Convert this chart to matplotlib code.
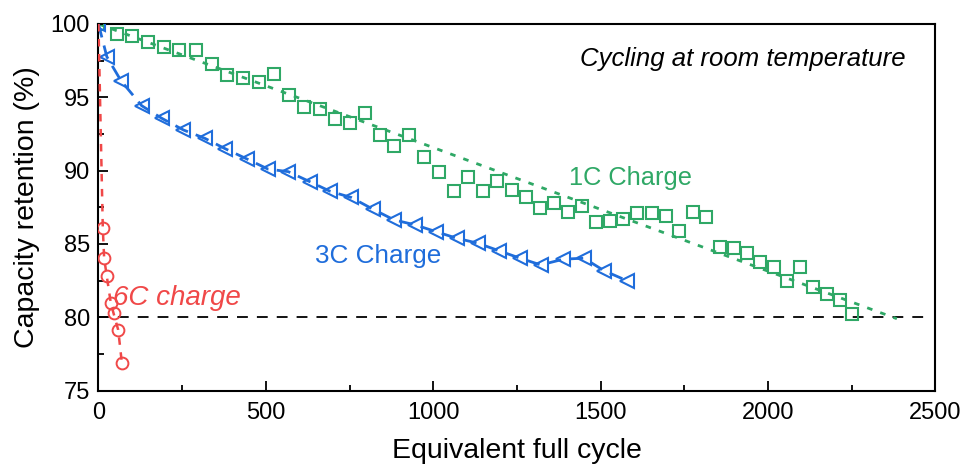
import numpy as np
import matplotlib
matplotlib.use('Agg')
import matplotlib.pyplot as plt
from matplotlib.ticker import MultipleLocator

plt.rcParams['font.family'] = ['Liberation Sans', 'DejaVu Sans']

GREEN, BLUE, RED = '#2fa866', '#1f6ddb', '#f04848'

# 1C charge, capacity retention vs equivalent full cycle
cyc_1c = [0, 55, 100, 147, 196, 242, 291, 339, 383, 431, 479, 523, 570, 615,
          662, 707, 751, 796, 841, 884, 929, 973, 1018, 1062, 1103, 1148,
          1190, 1235, 1277, 1319, 1361, 1404, 1444, 1486, 1528, 1568, 1610,
          1653, 1694, 1735, 1777, 1815, 1857, 1897, 1936, 1976, 2018, 2058,
          2096, 2135, 2175, 2215, 2252]
ret_1c = [100.0, 99.3, 99.2, 98.75, 98.45, 98.2, 98.2, 97.25, 96.5, 96.35,
          96.07, 96.57, 95.14, 94.36, 94.2, 93.5, 93.27, 93.96, 92.41, 91.68,
          92.43, 90.91, 89.9, 88.64, 89.55, 88.64, 89.32, 88.68, 88.23, 87.48,
          87.78, 87.2, 87.6, 86.52, 86.59, 86.69, 87.1, 87.1, 86.91, 85.89,
          87.2, 86.82, 84.78, 84.71, 84.37, 83.8, 83.41, 82.48, 83.41, 82.05,
          81.57, 81.19, 80.23]
fit_1c_x = [0, 2385]
fit_1c_y = [100.0, 79.9]

# 3C charge
cyc_3c = [0, 25, 67, 129, 189, 254, 318, 378, 443, 507, 567, 631, 693, 755,
          819, 883, 946, 1008, 1070, 1133, 1197, 1259, 1321, 1389, 1450, 1510,
          1578]
ret_3c = [100.0, 97.77, 96.14, 94.43, 93.57, 92.77, 92.2, 91.5, 90.8, 90.1,
          89.93, 89.25, 88.58, 88.17, 87.38, 86.64, 86.3, 85.84, 85.39, 85.05,
          84.53, 84.03, 83.57, 83.96, 84.03, 83.18, 82.5]

# 6C charge
cyc_6c = [0, 13, 17, 25, 37, 45, 59, 70]
ret_6c = [100.0, 86.07, 84.03, 82.78, 80.96, 80.28, 79.14, 76.87]

eol_x = [0, 2478]
eol_y = [80, 80]

fig = plt.figure(figsize=(9.69, 4.72), dpi=100)
ax = fig.add_axes([0.1016, 0.1725, 0.8637, 0.7767])

ax.plot(eol_x, eol_y, color='black', lw=1.3, dashes=(6, 5), zorder=1)

ax.plot(fit_1c_x, fit_1c_y, color=GREEN, lw=2, dashes=(2, 3), zorder=2)
ax.plot(cyc_1c, ret_1c, ls='none', marker='s', ms=8.6, mfc='none',
        mec=GREEN, mew=1.5, zorder=3)

ax.plot(cyc_3c, ret_3c, color=BLUE, lw=2, dashes=(5, 3), marker='<', ms=10,
        mfc='none', mec=BLUE, mew=1.5, zorder=3)

ax.plot(cyc_6c, ret_6c, color=RED, lw=1.8, dashes=(3, 3), marker='o', ms=8.5,
        mfc='none', mec=RED, mew=1.4, zorder=3, markevery=list(range(1, len(cyc_6c))))

ax.set_xlim(0, 2500)
ax.set_ylim(75, 100)
ax.xaxis.set_major_locator(MultipleLocator(500))
ax.xaxis.set_minor_locator(MultipleLocator(250))
ax.yaxis.set_major_locator(MultipleLocator(5))
ax.yaxis.set_minor_locator(MultipleLocator(2.5))
ax.tick_params(which='both', direction='in', top=False, right=False,
               labelsize=17, width=1.3, color='black')
ax.tick_params(axis='x', pad=8)
ax.tick_params(axis='y', pad=6)
ax.tick_params(which='major', length=7)
ax.tick_params(which='minor', length=4)
for sp in ax.spines.values():
    sp.set_linewidth(1.5)

ax.set_xlabel('Equivalent full cycle', fontsize=20.5, labelpad=10)
ax.set_ylabel('Capacity retention (%)', fontsize=20.5, labelpad=8)

ax.text(0.965, 0.905, 'Cycling at room temperature', transform=ax.transAxes,
        ha='right', va='center', fontsize=18.5, style='italic')
ax.text(1405, 89.5, '1C Charge', color=GREEN, fontsize=18.3, va='center')
ax.text(648, 84.2, '3C Charge', color=BLUE, fontsize=18.8, va='center')
ax.text(44, 81.3, '6C charge', color=RED, fontsize=20, style='italic', va='center')

fig.savefig('out.png', dpi=100)
